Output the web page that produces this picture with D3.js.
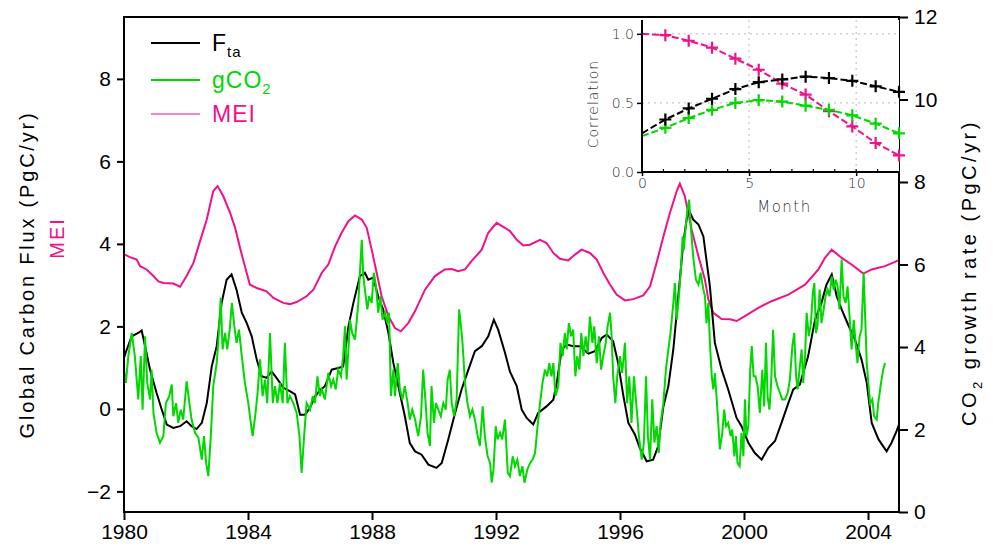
<!DOCTYPE html>
<html>
<head>
<meta charset="utf-8">
<script src="https://cdn.jsdelivr.net/npm/d3@7/dist/d3.min.js"></script>
<style>
  html, body { margin: 0; padding: 0; background: #fff; }
  svg { display: block; }
  text { font-family: "Liberation Sans", Arial, sans-serif; }
</style>
</head>
<body>
<svg id="chart" width="993" height="546"></svg>
<script>
// ---- Data ---------------------------------------------------------------
// Tick values
const yearTicks = [1980, 1984, 1988, 1992, 1996, 2000, 2004];
const fluxTicks = [-2, 0, 2, 4, 6, 8];
const growthTicks = [0, 2, 4, 6, 8, 10, 12];
const lagTicks = [0, 5, 10];
const corrTicks = [0, 0.5, 1];

// F_ta : global carbon flux (PgC/yr), [year, value]
const fta = [
  [1980.00,1.24],[1980.09,1.44],[1980.25,1.76],[1980.46,1.84],[1980.57,1.90],[1980.68,1.52],
  [1980.84,0.95],[1981.05,0.39],[1981.22,-0.02],[1981.38,-0.38],[1981.59,-0.46],[1981.81,-0.42],
  [1982.02,-0.30],[1982.18,-0.42],[1982.34,-0.49],[1982.51,-0.34],[1982.67,0.14],[1982.83,1.03],
  [1982.99,1.52],[1983.15,2.57],[1983.31,3.13],[1983.47,3.26],[1983.63,2.89],[1983.80,2.33],
  [1983.96,2.08],[1984.12,1.76],[1984.28,1.20],[1984.44,0.79],[1984.60,0.75],[1984.76,0.91],
  [1984.92,0.75],[1985.14,0.51],[1985.35,0.43],[1985.52,0.35],[1985.68,-0.14],[1985.84,-0.14],
  [1986.00,0.03],[1986.16,0.30],[1986.32,0.45],[1986.48,0.55],[1986.70,0.95],[1986.91,0.99],
  [1987.07,1.03],[1987.24,2.00],[1987.40,2.57],[1987.61,3.22],[1987.77,3.30],[1987.88,3.13],
  [1988.04,3.18],[1988.20,2.73],[1988.36,2.41],[1988.53,1.84],[1988.69,1.11],[1988.85,0.55],
  [1989.06,-0.18],[1989.22,-0.83],[1989.39,-1.03],[1989.60,-1.11],[1989.82,-1.35],[1990.08,-1.43],
  [1990.25,-1.31],[1990.46,-0.74],[1990.68,-0.10],[1990.89,0.47],[1991.11,0.95],[1991.32,1.40],
  [1991.54,1.52],[1991.75,1.76],[1991.93,2.16],[1992.07,1.92],[1992.29,1.36],[1992.45,0.90],
  [1992.67,0.55],[1992.83,-0.02],[1992.99,-0.22],[1993.20,-0.38],[1993.36,-0.10],[1993.63,0.06],
  [1993.85,0.22],[1993.96,0.63],[1994.12,1.44],[1994.28,1.56],[1994.49,1.52],[1994.71,1.52],
  [1994.98,1.34],[1995.19,1.40],[1995.41,1.72],[1995.57,1.80],[1995.78,1.64],[1995.94,1.11],
  [1996.11,0.31],[1996.27,-0.34],[1996.48,-0.62],[1996.64,-0.95],[1996.86,-1.27],[1997.07,-1.23],
  [1997.23,-0.91],[1997.40,0.06],[1997.56,0.55],[1997.72,1.44],[1997.88,2.73],[1998.04,4.02],
  [1998.20,4.85],[1998.36,4.59],[1998.53,4.47],[1998.69,4.18],[1998.90,2.97],[1999.06,1.60],
  [1999.28,0.95],[1999.49,0.47],[1999.76,-0.22],[1999.92,-0.42],[2000.14,-0.82],[2000.35,-1.07],
  [2000.57,-1.23],[2000.78,-0.95],[2001.00,-0.78],[2001.21,-0.34],[2001.43,0.14],[2001.59,0.47],
  [2001.80,0.59],[2002.07,1.28],[2002.29,2.16],[2002.50,2.57],[2002.66,3.01],[2002.83,3.26],
  [2002.99,2.73],[2003.15,2.41],[2003.36,2.04],[2003.58,1.68],[2003.79,1.20],[2003.96,0.63],
  [2004.12,-0.34],[2004.34,-0.74],[2004.60,-1.03],[2004.76,-0.82],[2004.92,-0.54],[2005.02,-0.34]
];

// gCO2 : atmospheric CO2 growth rate (PgC/yr), [year, value]
const gco2 = [
  [1980.00,3.45],[1980.06,3.13],[1980.14,3.78],[1980.25,4.34],[1980.35,3.78],[1980.46,2.73],
  [1980.54,3.78],[1980.60,2.48],[1980.68,4.26],[1980.75,3.13],[1980.84,2.73],[1980.89,3.45],
  [1980.95,2.40],[1981.05,1.92],[1981.16,1.68],[1981.27,1.84],[1981.35,2.64],[1981.46,2.81],
  [1981.54,3.09],[1981.59,2.32],[1981.68,2.64],[1981.75,2.16],[1981.83,2.48],[1981.91,2.24],
  [1982.02,3.17],[1982.11,2.64],[1982.18,2.24],[1982.29,1.92],[1982.40,1.80],[1982.51,1.27],
  [1982.58,1.84],[1982.65,1.19],[1982.72,0.87],[1982.80,1.84],[1982.88,3.05],[1982.99,3.61],
  [1983.04,4.10],[1983.12,5.19],[1983.18,3.94],[1983.26,4.34],[1983.33,3.94],[1983.42,4.50],
  [1983.48,5.07],[1983.56,4.50],[1983.63,4.10],[1983.71,4.42],[1983.80,3.78],[1983.90,3.13],
  [1984.01,2.64],[1984.09,2.16],[1984.15,1.84],[1984.23,2.32],[1984.30,2.81],[1984.39,3.70],
  [1984.47,2.81],[1984.55,3.21],[1984.62,2.64],[1984.71,4.34],[1984.80,2.64],[1984.87,3.05],
  [1984.95,2.64],[1985.03,3.13],[1985.12,2.64],[1985.19,4.10],[1985.27,2.64],[1985.35,2.81],
  [1985.46,2.64],[1985.57,2.40],[1985.66,1.84],[1985.73,0.95],[1985.81,1.84],[1985.89,2.64],
  [1986.00,2.48],[1986.09,2.81],[1986.16,2.64],[1986.24,3.29],[1986.32,2.81],[1986.38,2.97],
  [1986.48,2.73],[1986.59,3.37],[1986.68,3.05],[1986.75,3.21],[1986.83,2.97],[1986.91,3.45],
  [1987.00,3.29],[1987.07,3.78],[1987.13,4.50],[1987.18,3.21],[1987.24,3.94],[1987.29,4.66],
  [1987.36,4.34],[1987.45,4.18],[1987.56,5.07],[1987.61,5.80],[1987.67,6.60],[1987.72,5.72],
  [1987.77,5.39],[1987.85,4.91],[1987.91,5.23],[1987.99,5.07],[1988.06,5.80],[1988.13,5.47],
  [1988.20,4.83],[1988.27,5.23],[1988.34,4.66],[1988.42,4.83],[1988.49,4.58],[1988.55,4.83],
  [1988.61,2.81],[1988.69,3.45],[1988.74,2.81],[1988.83,3.61],[1988.90,2.97],[1988.98,2.73],
  [1989.06,3.05],[1989.15,2.64],[1989.22,2.24],[1989.30,2.48],[1989.39,2.24],[1989.49,1.84],
  [1989.58,2.32],[1989.65,3.45],[1989.73,2.64],[1989.79,1.92],[1989.87,1.60],[1989.92,3.05],
  [1990.00,2.16],[1990.06,2.64],[1990.14,2.48],[1990.22,2.32],[1990.30,2.64],[1990.38,2.48],
  [1990.44,3.21],[1990.51,3.45],[1990.57,2.64],[1990.65,2.32],[1990.73,2.73],[1990.81,4.91],
  [1990.87,4.50],[1990.92,4.10],[1991.00,3.13],[1991.08,2.64],[1991.16,2.32],[1991.24,2.48],
  [1991.32,2.24],[1991.41,1.84],[1991.48,1.60],[1991.57,2.56],[1991.64,1.84],[1991.73,1.35],
  [1991.81,1.19],[1991.86,0.71],[1991.92,1.03],[1991.99,2.08],[1992.05,1.76],[1992.13,1.92],
  [1992.20,1.76],[1992.29,2.24],[1992.38,0.95],[1992.45,0.87],[1992.54,1.35],[1992.61,1.11],
  [1992.69,1.27],[1992.77,0.87],[1992.85,1.11],[1992.92,0.71],[1993.01,1.03],[1993.10,1.19],
  [1993.18,1.27],[1993.26,1.43],[1993.33,2.00],[1993.42,2.64],[1993.50,3.13],[1993.58,3.45],
  [1993.65,3.29],[1993.72,3.61],[1993.79,3.29],[1993.85,3.61],[1993.92,2.81],[1994.01,3.05],
  [1994.08,4.10],[1994.15,3.78],[1994.22,4.34],[1994.28,3.94],[1994.35,4.58],[1994.42,4.26],
  [1994.49,4.42],[1994.56,3.29],[1994.62,3.78],[1994.69,3.45],[1994.75,4.34],[1994.82,3.78],
  [1994.89,4.26],[1994.96,3.86],[1995.03,4.74],[1995.11,4.10],[1995.17,4.50],[1995.25,3.61],
  [1995.32,4.26],[1995.39,3.45],[1995.46,3.78],[1995.54,4.10],[1995.60,4.50],[1995.68,4.83],
  [1995.73,4.26],[1995.78,3.29],[1995.85,2.64],[1995.91,3.29],[1996.00,3.78],[1996.07,3.37],
  [1996.16,4.10],[1996.23,2.64],[1996.30,3.29],[1996.37,2.16],[1996.45,3.29],[1996.54,2.48],
  [1996.61,1.84],[1996.70,1.27],[1996.77,1.68],[1996.84,3.29],[1996.90,1.84],[1996.97,1.27],
  [1997.04,2.73],[1997.11,1.68],[1997.18,2.08],[1997.25,1.43],[1997.31,2.16],[1997.40,2.64],
  [1997.48,3.45],[1997.56,3.94],[1997.63,4.34],[1997.72,5.07],[1997.77,5.55],[1997.83,4.66],
  [1997.90,5.23],[1997.97,5.96],[1998.02,6.68],[1998.06,6.36],[1998.13,7.01],[1998.18,7.33],
  [1998.23,7.57],[1998.29,6.85],[1998.36,6.20],[1998.45,5.63],[1998.53,5.51],[1998.60,5.80],
  [1998.69,5.39],[1998.74,5.23],[1998.79,4.58],[1998.85,5.07],[1998.90,4.10],[1998.96,3.29],
  [1999.01,2.97],[1999.06,3.37],[1999.12,2.73],[1999.17,2.16],[1999.22,1.52],[1999.30,1.92],
  [1999.36,2.48],[1999.42,2.08],[1999.49,2.16],[1999.57,1.84],[1999.62,2.00],[1999.69,1.35],
  [1999.74,1.84],[1999.79,1.19],[1999.86,1.11],[1999.92,1.92],[1999.98,1.35],[2000.03,2.73],
  [2000.08,1.84],[2000.14,2.08],[2000.20,3.45],[2000.25,4.02],[2000.31,3.29],[2000.37,3.29],
  [2000.44,3.05],[2000.51,2.40],[2000.59,3.45],[2000.65,2.56],[2000.71,4.10],[2000.76,2.81],
  [2000.82,2.48],[2000.87,3.05],[2000.94,4.42],[2001.00,3.29],[2001.08,3.05],[2001.16,2.89],
  [2001.23,2.73],[2001.32,2.73],[2001.41,2.89],[2001.48,3.21],[2001.56,4.02],[2001.62,4.34],
  [2001.68,3.29],[2001.73,2.97],[2001.79,3.45],[2001.86,3.94],[2001.91,3.13],[2001.97,3.78],
  [2002.02,4.83],[2002.09,4.26],[2002.16,4.58],[2002.22,5.31],[2002.27,5.55],[2002.32,4.34],
  [2002.37,4.50],[2002.44,5.39],[2002.50,4.58],[2002.57,4.91],[2002.63,5.23],[2002.70,5.39],
  [2002.76,5.23],[2002.83,5.71],[2002.89,5.39],[2002.96,5.63],[2003.02,5.47],[2003.08,4.91],
  [2003.15,6.12],[2003.21,5.23],[2003.28,5.07],[2003.34,5.47],[2003.42,4.58],[2003.47,3.94],
  [2003.54,4.66],[2003.60,4.10],[2003.66,3.61],[2003.73,4.26],[2003.79,4.42],[2003.86,5.80],
  [2003.90,4.91],[2003.96,3.61],[2004.01,3.13],[2004.07,2.64],[2004.14,2.73],[2004.20,2.32],
  [2004.28,2.24],[2004.33,2.64],[2004.42,3.13],[2004.49,3.45],[2004.55,3.61]
];

// MEI, drawn on the flux axis, [year, value]
const mei = [
  [1980.03,3.74],[1980.19,3.68],[1980.41,3.62],[1980.52,3.46],[1980.73,3.38],[1980.95,3.22],
  [1981.11,3.09],[1981.27,3.05],[1981.59,3.04],[1981.81,2.96],[1982.02,3.22],[1982.24,3.54],
  [1982.45,4.06],[1982.67,4.59],[1982.88,5.28],[1983.02,5.40],[1983.20,5.16],[1983.42,4.76],
  [1983.58,4.40],[1983.74,3.91],[1983.90,3.46],[1984.06,3.01],[1984.28,2.93],[1984.60,2.85],
  [1984.82,2.69],[1985.14,2.57],[1985.35,2.54],[1985.57,2.59],[1985.89,2.73],[1986.11,2.89],
  [1986.38,3.30],[1986.59,3.50],[1986.81,3.94],[1987.02,4.27],[1987.24,4.55],[1987.45,4.69],
  [1987.67,4.59],[1987.83,4.39],[1987.99,3.86],[1988.15,3.30],[1988.31,2.73],[1988.53,2.25],
  [1988.74,1.96],[1988.93,1.88],[1989.17,2.08],[1989.39,2.37],[1989.71,2.89],[1990.03,3.22],
  [1990.35,3.38],[1990.57,3.39],[1990.78,3.34],[1991.00,3.38],[1991.21,3.58],[1991.54,3.86],
  [1991.75,4.27],[1992.02,4.51],[1992.29,4.39],[1992.45,4.31],[1992.67,4.10],[1992.88,3.96],
  [1993.10,3.98],[1993.42,4.10],[1993.63,4.02],[1993.85,3.78],[1994.06,3.64],[1994.33,3.60],
  [1994.55,3.74],[1994.76,3.86],[1995.03,3.78],[1995.25,3.62],[1995.46,3.30],[1995.68,3.01],
  [1995.89,2.77],[1996.16,2.63],[1996.43,2.66],[1996.75,2.75],[1996.97,2.97],[1997.18,3.54],
  [1997.40,4.18],[1997.61,4.75],[1997.83,5.28],[1997.93,5.46],[1998.09,5.16],[1998.31,4.35],
  [1998.53,3.70],[1998.74,3.13],[1998.85,2.65],[1999.01,2.33],[1999.28,2.18],[1999.55,2.17],
  [1999.76,2.13],[2000.03,2.25],[2000.46,2.45],[2000.89,2.61],[2001.43,2.77],[2001.97,3.01],
  [2002.40,3.38],[2002.61,3.66],[2002.83,3.86],[2003.15,3.66],[2003.47,3.50],[2003.85,3.28],
  [2004.12,3.38],[2004.55,3.46],[2004.98,3.60]
];

// Lagged correlation with MEI (inset)
const corrLag  = [0, 1.09, 2.18, 3.27, 4.36, 5.45, 6.55, 7.64, 8.73, 9.82, 10.91, 12];
const corrFta  = [0.28, 0.38, 0.46, 0.53, 0.60, 0.65, 0.67, 0.69, 0.68, 0.66, 0.62, 0.58];
const corrGco2 = [0.26, 0.32, 0.39, 0.45, 0.50, 0.52, 0.51, 0.48, 0.45, 0.41, 0.35, 0.28];
const corrMei  = [1.00, 0.99, 0.95, 0.90, 0.82, 0.74, 0.64, 0.56, 0.44, 0.33, 0.21, 0.12];

// ---- Styles ---------------------------------------------------------------
const BLACK = "#000000";
const GREEN = "#00d800";
const PINK  = "#f0118a";

// ---- Layout ---------------------------------------------------------------
const svg = d3.select("#chart");
const L = 124, R = 899, T = 17, B = 512;

const x  = d3.scaleLinear().domain([1980, 2005]).range([L, R]);
const yL = d3.scaleLinear().domain([-2.5, 9.5]).range([B, T]);
const yR = d3.scaleLinear().domain([0, 12]).range([B, T]);

svg.append("defs").append("clipPath").attr("id", "plotClip")
  .append("rect").attr("x", L).attr("y", T).attr("width", R - L).attr("height", B - T);

const plot = svg.append("g").attr("clip-path", "url(#plotClip)");

const lineL = d3.line().x(d => x(d[0])).y(d => yL(d[1]));
const lineR = d3.line().x(d => x(d[0])).y(d => yR(d[1]));

plot.append("path").datum(mei).attr("d", lineL)
  .attr("fill", "none").attr("stroke", PINK).attr("stroke-width", 2);
plot.append("path").datum(fta).attr("d", lineL)
  .attr("fill", "none").attr("stroke", BLACK).attr("stroke-width", 2);
plot.append("path").datum(gco2).attr("d", lineR)
  .attr("fill", "none").attr("stroke", GREEN).attr("stroke-width", 2);

// ---- Axes -----------------------------------------------------------------
function styleAxis(g, size) {
  g.select(".domain").remove();
  g.selectAll(".tick line").attr("stroke", "#000").attr("stroke-width", 2);
  g.selectAll(".tick text").attr("fill", "#000")
    .style("font-size", size + "px")
    .style("font-family", "'Liberation Sans', Arial, sans-serif");
}

const gx = svg.append("g").attr("transform", `translate(0,${B})`)
  .call(d3.axisBottom(x).tickValues(yearTicks).tickFormat(d3.format("d"))
    .tickSize(8).tickPadding(4));
styleAxis(gx, 21);

const gyl = svg.append("g").attr("transform", `translate(${L},0)`)
  .call(d3.axisLeft(yL).tickValues(fluxTicks)
    .tickFormat(d => d < 0 ? "\u2212" + Math.abs(d) : d).tickSize(7).tickPadding(6));
styleAxis(gyl, 21);

const gyr = svg.append("g").attr("transform", `translate(${R},0)`)
  .call(d3.axisRight(yR).tickValues(growthTicks).tickSize(9).tickPadding(6));
styleAxis(gyr, 21);

// frame
svg.append("rect").attr("x", L).attr("y", T).attr("width", R - L).attr("height", B - T)
  .attr("fill", "none").attr("stroke", "#000").attr("stroke-width", 2);

// ---- Axis titles ----------------------------------------------------------
svg.append("text")
  .attr("transform", `translate(34,${(T + B) / 2 + 10}) rotate(-90)`)
  .attr("text-anchor", "middle")
  .style("font-size", "20px").style("letter-spacing", "2.8px")
  .text("Global Carbon Flux (PgC/yr)");

svg.append("text")
  .attr("transform", `translate(64,238) rotate(-90)`)
  .attr("text-anchor", "middle").attr("fill", PINK)
  .style("font-size", "20px").style("letter-spacing", "2px")
  .text("MEI");

const rt = svg.append("text")
  .attr("transform", `translate(976,${(T + B) / 2 + 8}) rotate(-90)`)
  .attr("text-anchor", "middle")
  .style("font-size", "20px").style("letter-spacing", "3.5px");
rt.append("tspan").text("CO");
rt.append("tspan").attr("dy", 6).style("font-size", "13px").text("2");
rt.append("tspan").attr("dy", -6).text(" growth rate (PgC/yr)");

// ---- Legend -----------------------------------------------------------------
const legend = [
  { y: 43, color: BLACK, width: 2, main: "F", sub: "ta" },
  { y: 80, color: GREEN, width: 2, main: "gCO", sub: "2" },
  { y: 114, color: PINK, width: 1.2, main: "MEI", sub: null }
];
const lg = svg.append("g");
legend.forEach(item => {
  lg.append("line").attr("x1", 151).attr("x2", 200).attr("y1", item.y).attr("y2", item.y)
    .attr("stroke", item.color).attr("stroke-width", item.width);
  const t = lg.append("text").attr("x", 212).attr("y", item.y + 8)
    .attr("fill", item.color).style("font-size", "23px").style("letter-spacing", "1px");
  t.append("tspan").text(item.main);
  if (item.sub) t.append("tspan").attr("dy", 6).style("font-size", "15px").text(item.sub);
});

// ---- Inset: lagged correlation ----------------------------------------------
const iL = 642, iR = 899, iT = 20, iB = 172;
const ix = d3.scaleLinear().domain([0, 12]).range([iL, iR]);
const iy = d3.scaleLinear().domain([0, 1.1]).range([iB, iT]);

const inset = svg.append("g");
inset.append("rect").attr("x", iL).attr("y", iT).attr("width", iR - iL).attr("height", iB - iT)
  .attr("fill", "#fff");

// dotted grid
[5, 10].forEach(v => inset.append("line")
  .attr("x1", ix(v)).attr("x2", ix(v)).attr("y1", iT).attr("y2", iB)
  .attr("stroke", "#b8b8b8").attr("stroke-width", 1).attr("stroke-dasharray", "2,4"));
[0.5, 1].forEach(v => inset.append("line")
  .attr("x1", iL).attr("x2", iR).attr("y1", iy(v)).attr("y2", iy(v))
  .attr("stroke", "#b8b8b8").attr("stroke-width", 1).attr("stroke-dasharray", "2,4"));

const corrSeries = [
  { vals: corrMei, color: PINK },
  { vals: corrGco2, color: GREEN },
  { vals: corrFta, color: BLACK }
];
const iline = d3.line().x(d => ix(d[0])).y(d => iy(d[1]));
corrSeries.forEach(s => {
  const pts = corrLag.map((m, i) => [m, s.vals[i]]);
  inset.append("path").datum(pts).attr("d", iline)
    .attr("fill", "none").attr("stroke", s.color).attr("stroke-width", 2)
    .attr("stroke-dasharray", "7,3");
  inset.selectAll(null).data(pts.slice(1)).enter().append("path")
    .attr("d", d => `M${ix(d[0]) - 6},${iy(d[1])}H${ix(d[0]) + 6}M${ix(d[0])},${iy(d[1]) - 6}V${iy(d[1]) + 6}`)
    .attr("stroke", s.color).attr("stroke-width", 2.2);
});

// inset axes
const gix = inset.append("g").attr("transform", `translate(0,${iB})`)
  .call(d3.axisBottom(ix).tickValues(lagTicks).tickSize(4).tickPadding(2));
gix.select(".domain").remove();
gix.selectAll(".tick line").attr("stroke", "#000").attr("stroke-width", 1.5);
gix.selectAll(".tick text").attr("fill", "#333").style("font-size", "14px")
  .style("font-family", "'DejaVu Sans', sans-serif").style("font-weight", "300");
inset.selectAll(null).data(d3.range(1, 12)).enter().append("line")
  .attr("x1", d => ix(d)).attr("x2", d => ix(d)).attr("y1", iB).attr("y2", iB - 3)
  .attr("stroke", "#000").attr("stroke-width", 1.2);

const giy = inset.append("g").attr("transform", `translate(${iL},0)`)
  .call(d3.axisLeft(iy).tickValues(corrTicks).tickSize(5).tickPadding(3));
giy.select(".domain").remove();
giy.selectAll(".tick line").attr("stroke", "#000").attr("stroke-width", 1.5);
giy.selectAll(".tick text").attr("fill", "#333").style("font-size", "14px")
  .style("font-family", "'DejaVu Sans', sans-serif").style("font-weight", "300");

inset.append("line").attr("x1", iL).attr("x2", iL).attr("y1", iT).attr("y2", iB)
  .attr("stroke", "#000").attr("stroke-width", 2);
inset.append("line").attr("x1", iL).attr("x2", iR).attr("y1", iB).attr("y2", iB)
  .attr("stroke", "#000").attr("stroke-width", 2);

inset.append("text").attr("x", (iL + iR) / 2 + 14).attr("y", 212)
  .attr("text-anchor", "middle").attr("fill", "#333")
  .style("font-family", "'DejaVu Sans', sans-serif").style("font-weight", "300")
  .style("font-size", "15px").style("letter-spacing", "1.5px")
  .text("Month");
inset.append("text")
  .attr("transform", `translate(598,${(iT + iB) / 2 + 8}) rotate(-90)`)
  .attr("text-anchor", "middle").attr("fill", "#333")
  .style("font-family", "'DejaVu Sans', sans-serif").style("font-weight", "300")
  .style("font-size", "14px").style("letter-spacing", "1px")
  .text("Correlation");
</script>
</body>
</html>
